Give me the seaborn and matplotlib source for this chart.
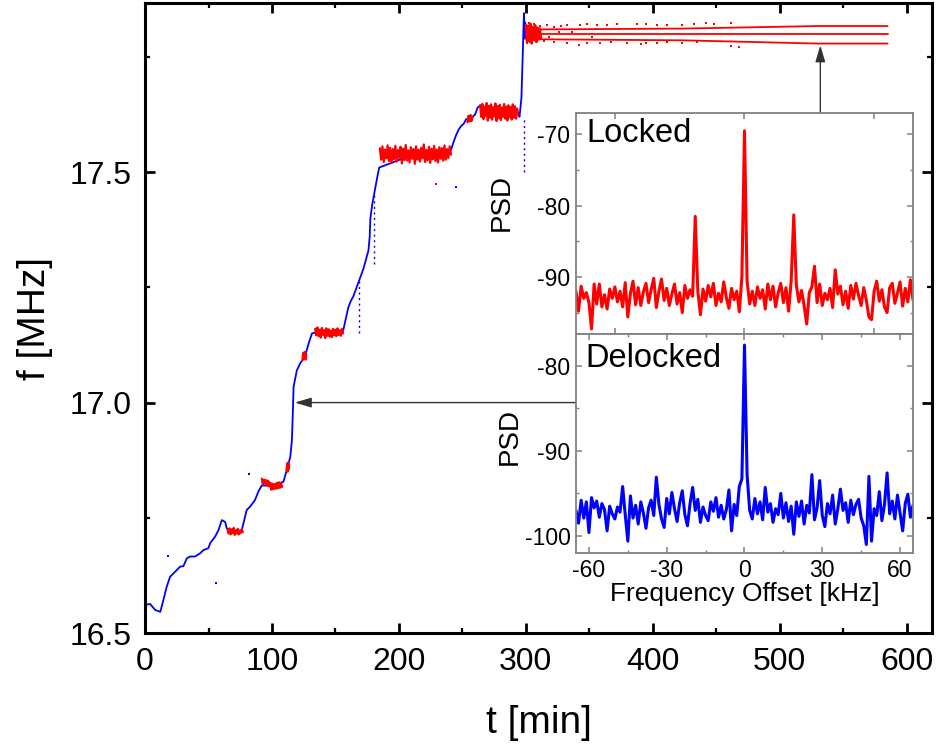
import numpy as np
import matplotlib
matplotlib.use("Agg")
import matplotlib.pyplot as plt
import seaborn as sns

# ---------------- data ----------------
# unlocked (blue) frequency trace, f [MHz] vs t [min]
blue_t = [0, 4, 8, 12, 14.5, 17, 19.7, 23.7, 27.6, 30.2, 32.9, 35.5, 39.4, 43.4, 46,
          49.9, 51.3, 55.2, 57.8, 60.5, 63.1, 64.4, 71, 76.2, 80.1, 82.7, 86.7, 89.3,
          91.9, 100, 109, 111.7, 114.4, 115.7, 116.5, 117, 119.6, 122.2, 126, 128.8,
          131.5, 134.1, 145, 156, 158, 160, 162, 164, 166, 168, 170, 172, 174, 176,
          177, 177.5, 179, 181, 183, 184.5, 213, 241, 243, 245, 247, 249, 251, 253,
          256, 258, 260, 262, 264, 279, 294, 295, 296.5, 297.5, 298, 298.5, 299,
          299.5, 300]
blue_f = [16.561, 16.563, 16.550, 16.546, 16.572, 16.600, 16.622, 16.633, 16.644,
          16.645, 16.662, 16.666, 16.666, 16.673, 16.680, 16.684, 16.695, 16.709,
          16.723, 16.745, 16.741, 16.727, 16.720, 16.723, 16.767, 16.774, 16.789,
          16.807, 16.820, 16.820, 16.828, 16.854, 16.882, 16.918, 16.984, 17.034,
          17.070, 17.085, 17.100, 17.128, 17.150, 17.152, 17.152, 17.155, 17.180,
          17.205, 17.220, 17.230, 17.245, 17.260, 17.275, 17.290, 17.310, 17.330,
          17.360, 17.400, 17.430, 17.460, 17.490, 17.510, 17.540, 17.548, 17.565,
          17.580, 17.592, 17.600, 17.605, 17.615, 17.617, 17.620, 17.625, 17.640,
          17.645, 17.630, 17.628, 17.620, 17.660, 17.750, 17.800, 17.845, 17.790,
          17.825, 17.800]

# short jumps of the unlocked trace (start/end frequency at fixed time)
jump_t = [168.3, 180.0, 298.6]
jump_lo = [17.15, 17.30, 17.50]
jump_hi = [17.27, 17.45, 17.62]

# isolated outlier samples
blue_dot_t = [18.4, 56.0, 82.0, 245.0]
blue_dot_f = [16.667, 16.609, 16.845, 17.467]
red_dot_t = [229.5]
red_dot_f = [17.474]

# locked (red) plateaus: time span and sampled frequency
plateau_start = [65, 92, 111.5, 124, 134, 185, 254, 264, 300]
plateau_end = [77, 108, 113.5, 127, 156, 241, 258, 294, 312]
plateau_f = [
    [16.724, 16.716, 16.727, 16.714, 16.725, 16.717, 16.728, 16.713, 16.723, 16.716,
     16.726, 16.714, 16.722, 16.717, 16.725, 16.719],
    [16.835, 16.822, 16.833, 16.824, 16.832, 16.820, 16.830, 16.818, 16.826, 16.811,
     16.824, 16.812, 16.823, 16.813, 16.826, 16.814, 16.827, 16.815, 16.826, 16.817],
    [16.853, 16.868, 16.850, 16.870, 16.855, 16.866],
    [17.092, 17.108, 17.095, 17.110, 17.093, 17.105],
    [17.160, 17.146, 17.163, 17.144, 17.158, 17.141, 17.162, 17.147, 17.157, 17.140,
     17.161, 17.145, 17.159, 17.143, 17.156, 17.142, 17.160, 17.146, 17.158, 17.144,
     17.161, 17.147, 17.157, 17.145, 17.160, 17.150],
    [17.552, 17.527, 17.556, 17.522, 17.549, 17.530, 17.558, 17.524, 17.553, 17.520,
     17.550, 17.528, 17.557, 17.523, 17.548, 17.531, 17.555, 17.519, 17.551, 17.526,
     17.559, 17.525, 17.547, 17.521, 17.554, 17.529, 17.550, 17.518, 17.556, 17.527,
     17.549, 17.523, 17.553, 17.530, 17.560, 17.522, 17.548, 17.526, 17.555, 17.520,
     17.551, 17.528, 17.557, 17.524, 17.549, 17.521, 17.554, 17.529, 17.552, 17.525,
     17.558, 17.527, 17.550, 17.531, 17.556, 17.538],
    [17.608, 17.622, 17.610, 17.624, 17.611, 17.619],
    [17.645, 17.620, 17.648, 17.615, 17.642, 17.622, 17.650, 17.612, 17.644, 17.618,
     17.647, 17.614, 17.641, 17.621, 17.649, 17.611, 17.643, 17.617, 17.646, 17.613,
     17.640, 17.620, 17.648, 17.616, 17.642, 17.612, 17.645, 17.619, 17.641, 17.614,
     17.647, 17.618, 17.643, 17.616, 17.638, 17.625],
    [17.820, 17.780, 17.818, 17.784, 17.822, 17.779, 17.816, 17.786, 17.819, 17.782,
     17.814, 17.788, 17.812, 17.790],
]

# final locked state: carrier and the two modulation sidebands
final_t = [300, 424, 530, 585]
final_upper = [17.8095, 17.8115, 17.817, 17.817]
final_center = [17.799, 17.799, 17.799, 17.799]
final_lower = [17.7885, 17.786, 17.779, 17.779]

# scattered samples around the final locked state
final_dot_t = [302.3, 306.2, 311.5, 316.8, 322.0, 327.3, 332.6, 343.0, 348.3, 356.2,
               364.1, 372.0, 387.8, 394.3, 403.5, 411.4, 423.3, 432.4, 441.6, 448.2,
               461.4, 303.6, 314.2, 322.0, 332.6, 341.7, 348.3, 358.8, 366.7, 379.9,
               390.4, 394.3, 403.5, 411.4, 423.3, 435.0, 461.4, 467.9, 318.0, 326.0,
               336.0, 352.0]
final_dot_f = [17.8226, 17.8211, 17.8167, 17.8189, 17.8152, 17.8167, 17.8189, 17.8182,
               17.8204, 17.8182, 17.8189, 17.8211, 17.8211, 17.8211, 17.8182, 17.8189,
               17.8189, 17.8204, 17.8226, 17.8211, 17.8239, 17.7827, 17.7848, 17.7827,
               17.7805, 17.7755, 17.7813, 17.7805, 17.7820, 17.7813, 17.7770, 17.7792,
               17.7813, 17.7827, 17.7813, 17.7827, 17.7733, 17.7718, 17.7930, 17.8050,
               17.8030, 17.7940]

# power spectral densities, offset -65 ... 65 kHz in 1 kHz steps
psd_offset = list(range(-65, 66))
psd_locked = [
    -92.0, -94.8, -91.3, -93.0, -92.2, -93.6, -97.3, -91.0, -93.8, -91.0,
    -94.2, -92.5, -94.5, -91.7, -93.0, -91.4, -93.5, -92.0, -94.2, -90.8,
    -95.6, -92.3, -90.6, -93.9, -91.5, -94.0, -92.1, -90.9, -93.6, -91.8,
    -90.2, -94.3, -92.0, -90.3, -93.3, -91.6, -94.0, -92.4, -91.0, -93.8,
    -92.2, -95.0, -91.2, -93.0, -91.8, -92.7, -81.5, -92.0, -95.3, -91.7,
    -93.4, -91.2, -92.8, -90.9, -94.0, -92.3, -93.5, -90.7, -92.9, -94.4,
    -91.6, -93.2, -92.0, -94.9, -90.0, -69.5, -90.6, -93.8, -92.0, -94.0,
    -91.4, -93.0, -91.8, -94.5, -91.0, -93.2, -91.3, -94.2, -92.2, -90.9,
    -93.6, -91.5, -94.8, -90.6, -81.3, -91.2, -93.5, -91.9, -94.0, -96.6,
    -92.2, -91.4, -88.5, -93.6, -91.0, -94.0, -92.3, -93.2, -91.6, -94.3,
    -89.0, -92.4, -91.3, -93.9, -92.0, -94.4, -91.2, -93.1, -90.9, -92.6,
    -94.0, -91.5, -93.3, -95.6, -96.0, -92.0, -90.6, -93.4, -91.8, -94.2,
    -95.0, -91.5, -90.9, -93.7, -92.3, -90.7, -94.1, -91.6, -93.5, -90.4,
    -93.2]
psd_delocked = [
    -97.0, -98.5, -95.8, -97.9, -96.0, -99.6, -95.5, -96.7, -95.9, -97.8,
    -96.2, -96.9, -99.4, -96.5, -97.4, -98.0, -96.6, -97.2, -94.2, -97.5,
    -100.6, -95.3, -97.9, -96.4, -98.6, -96.0, -97.3, -99.1, -96.7, -95.8,
    -97.6, -93.1, -96.3, -98.0, -99.0, -95.6, -97.4, -94.9, -96.8, -98.3,
    -96.1, -94.7, -97.5, -98.8, -96.2, -94.3, -97.0, -95.7, -98.4, -96.6,
    -97.6, -98.2, -96.0, -97.1, -95.5, -97.8, -96.4, -98.0, -96.9, -94.6,
    -99.4, -96.3, -97.6, -94.2, -93.3, -77.6, -92.8, -97.0, -98.0, -95.6,
    -97.4, -96.0, -98.1, -94.3, -97.2, -96.2, -98.4, -96.8, -97.5, -95.0,
    -97.9, -96.1, -98.3, -96.5, -99.8, -96.0, -97.7, -95.9, -98.6, -96.4,
    -97.3, -92.8, -98.1, -96.7, -93.5, -97.6, -98.9, -96.2, -97.4, -95.2,
    -98.6, -96.8, -94.5, -97.0, -96.1, -98.4, -95.8, -97.5, -96.3, -95.7,
    -97.9, -98.8, -101.0, -93.0, -100.6, -96.8, -97.6, -94.8, -98.2, -96.3,
    -92.6, -97.4, -95.9, -98.0, -95.2, -97.3, -99.4, -96.2, -95.1, -97.8,
    -96.4]

RED = "#ff0000"
BLUE = "#0000ff"
FRAME = "#808080"

# ---------------- style ----------------
sns.set_style("ticks")
plt.rcParams["font.family"] = ["Liberation Sans", "DejaVu Sans"]
plt.rcParams["axes.unicode_minus"] = False
plt.rcParams["text.color"] = "black"
plt.rcParams["axes.labelcolor"] = "black"
plt.rcParams["xtick.color"] = "black"
plt.rcParams["ytick.color"] = "black"

fig = plt.figure(figsize=(9.37, 7.51), dpi=100)

# ---------------- main panel ----------------
ax = fig.add_axes([0.1548, 0.1571, 0.8399, 0.8389])

sns.lineplot(x=blue_t, y=blue_f, sort=False, estimator=None, color=BLUE,
             lw=1.3, ax=ax)
for t, lo, hi in zip(jump_t, jump_lo, jump_hi):
    sns.lineplot(x=[t, t], y=[lo, hi], sort=False, estimator=None, color=BLUE,
                 lw=1.0, ls=(0, (1.5, 2.5)), ax=ax)
sns.scatterplot(x=blue_dot_t, y=blue_dot_f, color=BLUE, s=2, marker="s",
                linewidth=0, ax=ax)

for t0, t1, vals in zip(plateau_start, plateau_end, plateau_f):
    ts = np.linspace(t0, t1, len(vals))
    sns.lineplot(x=ts, y=vals, sort=False, estimator=None, color=RED, lw=1.6, ax=ax)
sns.scatterplot(x=red_dot_t, y=red_dot_f, color=RED, s=2, marker="s",
                linewidth=0, ax=ax)

for series in (final_upper, final_center, final_lower):
    sns.lineplot(x=final_t, y=series, sort=False, estimator=None, color=RED,
                 lw=1.3, ax=ax)
sns.scatterplot(x=final_dot_t, y=final_dot_f, color=RED, s=2, marker="s",
                linewidth=0, ax=ax)

ax.set_xlim(0, 620)
ax.set_ylim(16.5, 17.867)
ax.xaxis.set_major_locator(matplotlib.ticker.MultipleLocator(100))
ax.xaxis.set_minor_locator(matplotlib.ticker.MultipleLocator(50))
ax.yaxis.set_major_locator(matplotlib.ticker.MultipleLocator(0.5))
ax.yaxis.set_minor_locator(matplotlib.ticker.MultipleLocator(0.25))
ax.yaxis.set_major_formatter(matplotlib.ticker.FormatStrFormatter("%.1f"))
ax.tick_params(which="both", direction="in", top=True, right=True,
               colors="black", labelcolor="black")
ax.tick_params(which="major", length=7, width=2.0, labelsize=23, pad=10)
ax.tick_params(which="minor", length=3.5, width=1.6)
for s in ax.spines.values():
    s.set_linewidth(2.2)
    s.set_color("black")

ax.set_xlabel("t [min]", fontsize=28, color="black")
ax.set_ylabel("f [MHz]", fontsize=28, color="black")
ax.xaxis.set_label_coords(0.5, -0.115)
ax.yaxis.set_label_coords(-0.117, 0.5)

arrow = dict(arrowstyle="-|>,head_length=1.0,head_width=0.3", color="#333333",
             lw=1.0, shrinkA=0, shrinkB=0)
ax.annotate("", xy=(118, 17.0), xytext=(340, 17.0), arrowprops=arrow)
ax.annotate("", xy=(532, 17.775), xytext=(532, 17.628), arrowprops=arrow)

# ---------------- inset: spectra ----------------
ax1 = fig.add_axes([0.6147, 0.5553, 0.3597, 0.2943], zorder=5)
ax2 = fig.add_axes([0.6147, 0.2636, 0.3597, 0.2917], zorder=5)

sns.lineplot(x=psd_offset, y=psd_locked, sort=False, estimator=None, color=RED,
             lw=2.2, ax=ax1)
sns.lineplot(x=psd_offset, y=psd_delocked, sort=False, estimator=None, color=BLUE,
             lw=2.2, ax=ax2)

ax1.set_xlim(-65, 65)
ax1.set_ylim(-98, -67)
ax1.xaxis.set_major_locator(matplotlib.ticker.MultipleLocator(50))
ax1.yaxis.set_major_locator(matplotlib.ticker.MultipleLocator(10))
ax1.yaxis.set_minor_locator(matplotlib.ticker.MultipleLocator(5))
ax1.tick_params(axis="x", labelbottom=False)

ax2.set_xlim(-65, 65)
ax2.set_ylim(-102, -76.3)
ax2.xaxis.set_major_locator(matplotlib.ticker.MultipleLocator(30))
ax2.xaxis.set_minor_locator(matplotlib.ticker.MultipleLocator(15))
ax2.yaxis.set_major_locator(matplotlib.ticker.MultipleLocator(10))
ax2.yaxis.set_minor_locator(matplotlib.ticker.MultipleLocator(5))

for a in (ax1, ax2):
    a.set_facecolor("white")
    a.tick_params(which="both", direction="in", top=True, right=True,
                  colors=FRAME, labelcolor="black")
    a.tick_params(which="major", length=4, width=1.1, labelsize=16.5, pad=4)
    a.tick_params(which="minor", length=2.5, width=1.0)
    for s in a.spines.values():
        s.set_linewidth(1.3)
        s.set_color(FRAME)
    a.set_xlabel("")

ax1.set_ylabel("PSD", fontsize=20, color="black")
ax1.yaxis.set_label_coords(-0.181, 0.597)
ax2.set_ylabel("PSD", fontsize=20, color="black")
ax2.yaxis.set_label_coords(-0.157, 0.53)
ax2.set_xlabel("Frequency Offset [kHz]", fontsize=19, color="black")
ax2.xaxis.set_label_coords(0.5, -0.13)

ax1.text(0.03, 0.975, "Locked", transform=ax1.transAxes, fontsize=23.5,
         va="top", ha="left", color="black")
ax2.text(0.027, 0.96, "Delocked", transform=ax2.transAxes, fontsize=23.5,
         va="top", ha="left", color="black")

fig.savefig("out.png", dpi=100)
